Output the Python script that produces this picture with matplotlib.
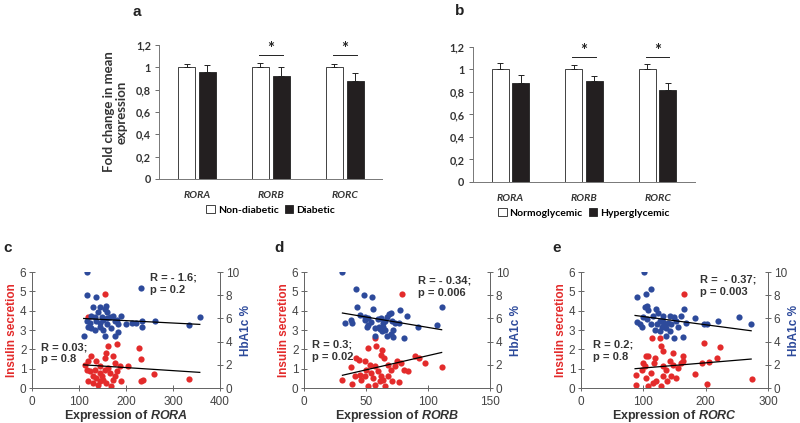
import matplotlib.pyplot as plt
from matplotlib.patches import Patch

# ---- bar panels (a, b) ----
genes = ["RORA", "RORB", "RORC"]

a_ctrl = [1.0, 1.0, 1.0]
a_ctrl_err = [0.03, 0.04, 0.03]
a_case = [0.96, 0.92, 0.88]
a_case_err = [0.06, 0.08, 0.07]

b_ctrl = [1.0, 1.0, 1.0]
b_ctrl_err = [0.06, 0.04, 0.05]
b_case = [0.88, 0.90, 0.82]
b_case_err = [0.07, 0.04, 0.06]

a_sig = [False, True, True]
b_sig = [False, True, True]
sig_level = 1.11

bar_ticks = [0, 0.2, 0.4, 0.6, 0.8, 1.0, 1.2]
bar_ticklabels = ["0", "0,2", "0,4", "0,6", "0,8", "1", "1,2"]

# ---- scatter panels (c, d, e) ----
# x = gene expression, ins = insulin secretion (left axis), hba = HbA1c % (right axis)
c_ins_x = [156, 119, 181, 161, 227, 232, 260, 335, 236, 232, 112, 119, 126, 137, 155, 158, 173, 176,
           144, 134, 123, 144, 155, 165, 176, 187, 205, 119, 130, 141, 151, 158, 169, 173, 190, 137,
           148, 162, 130, 116, 180, 144]
c_ins_y = [4.88, 3.7, 2.3, 2.15, 2.08, 1.5, 0.72, 0.47, 0.43, 0.35, 1.2, 1.38, 1.64, 1.38, 1.55, 1.8,
           1.64, 1.3, 1.15, 0.95, 0.86, 0.78, 0.95, 0.78, 0.6, 1.12, 1.12, 0.34, 0.26, 0.17, 0.43, 0.26,
           0.09, 0.43, 0.34, 0.52, 0.6, 1.03, 0.6, 0.95, 0.86, 0.34]
c_hba_x = [118, 118, 136, 232, 130, 144, 155, 157, 141, 160, 126, 165, 173, 190, 123, 137, 151, 144,
           159, 180, 183, 201, 212, 222, 235, 235, 262, 335, 357, 110, 156, 176, 183, 134, 151, 119,
           169, 116, 134, 148, 159, 176, 144, 126]
c_hba_y = [10.0, 8.0, 7.85, 8.6, 7.0, 7.0, 6.8, 7.1, 6.6, 6.6, 6.2, 6.1, 6.2, 6.2, 5.6, 5.75, 5.9, 5.3,
           5.5, 5.9, 5.55, 5.5, 5.6, 5.6, 5.75, 5.3, 5.8, 5.45, 6.1, 4.5, 4.5, 4.5, 4.8, 5.0, 5.0, 5.3,
           5.2, 5.75, 6.1, 6.1, 6.0, 5.8, 5.65, 5.2]
c_fit_x = [110, 357]
c_ins_fit = [1.2, 0.81]
c_hba_fit = [6.0, 5.49]

d_ins_x = [79, 57, 52, 58.4, 62.5, 62, 64.6, 42, 44, 38, 31, 39, 45.5, 49, 50.4, 57, 54, 60, 62, 61,
           57.6, 64, 68, 70, 70.6, 76.5, 73, 78.6, 81, 84, 89.4, 92.6, 97.5, 111, 68, 75, 49, 52, 56,
           46, 41, 53, 65]
d_ins_y = [4.88, 2.6, 2.07, 2.15, 1.98, 1.72, 1.55, 1.55, 1.47, 1.07, 0.4, 0.2, 0.65, 0.6, 0.95, 1.12,
           0.78, 0.86, 0.6, 0.34, 0.17, 0.43, 0.6, 0.95, 0.34, 0.29, 1.12, 1.3, 0.95, 0.86, 1.64, 1.55,
           1.3, 1.08, 1.2, 1.38, 1.38, 0.08, 0.52, 0.43, 0.6, 1.2, 0.08]
d_hba_x = [31, 42, 48.5, 55, 42.5, 56, 33, 38, 39, 45, 49, 52, 57, 62, 67, 68.7, 70, 64, 61, 57, 70,
           71.5, 67, 77, 77.5, 82.7, 81, 92, 107, 111, 73, 60, 54, 49, 64, 65.7, 60.3, 50.5, 72, 63, 52,
           65, 70.6]
d_hba_y = [10.0, 8.56, 8.0, 7.85, 7.0, 6.8, 5.6, 5.9, 5.6, 6.3, 6.1, 5.4, 5.2, 6.0, 6.1, 6.4, 6.5, 5.6,
           5.1, 4.5, 4.7, 4.4, 4.5, 5.6, 6.75, 6.2, 4.3, 5.3, 5.4, 7.0, 5.6, 5.95, 5.7, 5.9, 5.3, 5.0,
           5.3, 5.3, 5.0, 4.9, 6.0, 5.8, 5.8]
d_fit_x = [31, 111]
d_ins_fit = [0.66, 1.84]
d_hba_fit = [6.47, 5.03]

e_ins_x = [165, 114.5, 127, 128, 197, 223, 219, 104, 132, 148, 164, 164, 194, 205, 183, 203, 275, 88,
           89, 97.5, 103, 105, 113, 117, 121, 128, 131, 137, 138, 145, 153, 148, 156, 161, 108, 119,
           100, 116, 132, 143, 108]
e_ins_y = [4.88, 2.6, 2.6, 2.19, 2.33, 2.1, 1.55, 1.64, 1.9, 1.8, 1.67, 1.38, 1.3, 1.33, 0.72, 0.2,
           0.47, 0.65, 0.17, 0.95, 1.12, 0.52, 0.78, 1.3, 0.34, 0.12, 0.6, 0.95, 0.34, 0.6, 0.52, 1.2,
           1.03, 1.3, 1.64, 1.55, 1.3, 0.26, 1.12, 1.38, 0.08]
e_hba_x = [102, 90.6, 105, 112, 103, 106, 108, 121, 166, 89.5, 94.8, 97.5, 100, 105.5, 116, 124, 132,
           143, 150, 161, 121.5, 129.5, 137, 119, 127, 137, 149, 164, 143, 156, 169, 183, 197, 203, 220,
           254, 273, 132, 140, 153, 113, 127, 145, 135]
e_hba_y = [10.0, 7.85, 8.1, 8.56, 7.0, 7.1, 6.75, 6.8, 6.8, 5.7, 5.5, 5.3, 6.1, 5.95, 6.2, 6.5, 6.2,
           6.2, 6.1, 6.2, 5.55, 5.3, 5.2, 5.0, 4.9, 4.5, 4.3, 4.4, 4.9, 5.3, 5.6, 6.0, 5.55, 5.55, 5.8,
           6.1, 5.5, 5.7, 5.6, 5.75, 5.5, 5.75, 5.5, 5.5]
e_fit_x = [87, 273]
e_ins_fit = [1.0, 1.5]
e_hba_fit = [6.26, 4.94]

red = "#e32b2b"
blue = "#2d4a9b"
txt = "#333333"

bar_font = "Lato"
sc_font = "Liberation Sans"

plt.rcParams["mathtext.fontset"] = "custom"
plt.rcParams["mathtext.bfit"] = "Liberation Sans:bold:italic"

fig = plt.figure(figsize=(8, 4.23), dpi=100)


def bar_panel(rect, ctrl, ctrl_err, case, case_err, sig, labels, letter, letter_pos, ylabel=True):
    ax = fig.add_axes(rect)
    pos = range(len(genes))
    off = 0.14
    w = 0.23
    xc = [p - off for p in pos]
    xd = [p + off for p in pos]
    ax.bar(xc, ctrl, width=w, color="white", edgecolor="#222222", lw=0.6, zorder=2)
    ax.bar(xd, case, width=w, color="#231f20", edgecolor="#222222", lw=0.6, zorder=2)
    ax.errorbar(xc, ctrl, yerr=[[0] * 3, ctrl_err], fmt="none", ecolor="#222222", elinewidth=0.7,
                capsize=2.5, capthick=0.7, zorder=3)
    ax.errorbar(xd, case, yerr=[[0] * 3, case_err], fmt="none", ecolor="#222222", elinewidth=0.7,
                capsize=2.5, capthick=0.7, zorder=3)
    for p, s in zip(pos, sig):
        if s:
            ax.plot([p - 0.16, p + 0.16], [sig_level, sig_level], color="#222222", lw=0.7)
            ax.text(p, sig_level - 0.015, "*", ha="center", va="bottom", fontsize=12,
                    fontweight="bold", family=bar_font, color="#222222")
    ax.set_xlim(-0.51, 2.51)
    ax.set_ylim(0, 1.2)
    ax.set_yticks(bar_ticks)
    ax.set_yticklabels(bar_ticklabels, family=bar_font, fontweight="bold", fontsize=7.8, color=txt)
    ax.set_xticks(list(pos))
    ax.set_xticklabels(genes, family=bar_font, fontweight="bold", style="italic", fontsize=7.5,
                       color=txt)
    ax.tick_params(axis="x", length=0, pad=9)
    ax.tick_params(axis="y", length=3, width=0.6, colors="#555555", labelcolor=txt, pad=3)
    for sp in ["top", "right"]:
        ax.spines[sp].set_visible(False)
    ax.spines["left"].set_color("#777777")
    ax.spines["bottom"].set_color("#777777")
    ax.spines["left"].set_linewidth(0.7)
    ax.spines["bottom"].set_linewidth(0.7)
    if ylabel:
        ax.set_ylabel("Fold change in mean\nexpression", family=bar_font, fontweight="bold",
                      fontsize=9.5, color=txt, linespacing=1.0, labelpad=6)
    handles = [Patch(facecolor="white", edgecolor="#222222", lw=0.6),
               Patch(facecolor="#231f20", edgecolor="#222222", lw=0.6)]
    ax.legend(handles, labels, loc="upper center", bbox_to_anchor=(0.5, -0.155), ncol=2,
              frameon=False, handlelength=0.8, handleheight=0.8, handletextpad=0.3,
              columnspacing=0.6, borderpad=0,
              prop={"family": bar_font, "weight": "bold", "size": 7.5})
    fig.text(letter_pos[0], letter_pos[1], letter, family=sc_font, fontweight="bold", fontsize=11,
             color="#222222", ha="center", va="center")
    return ax


bar_panel([0.199, 0.577, 0.279, 0.317], a_ctrl, a_ctrl_err, a_case, a_case_err, a_sig,
          ["Non-diabetic", "Diabetic"], "a", (137 / 800, 1 - 12 / 423))
bar_panel([0.591, 0.570, 0.278, 0.319], b_ctrl, b_ctrl_err, b_case, b_case_err, b_sig,
          ["Normoglycemic", "Hyperglycemic"], "b", (460 / 800, 1 - 11 / 423), ylabel=False)


def scatter_panel(rect, ix, iy, hx, hy, fx, ifit, hfit, xmax, xticks, gene, letter, letter_x,
                  ins_txt, ins_pos, hba_txt, hba_pos):
    ax = fig.add_axes(rect)
    ax2 = ax.twinx()
    ax.scatter(ix, iy, s=20, color=red, lw=0, zorder=2)
    ax.plot(fx, ifit, color="black", lw=0.9, zorder=3)
    ax2.scatter(hx, hy, s=20, color=blue, lw=0, zorder=2)
    ax2.plot(fx, hfit, color="black", lw=0.9, zorder=3)
    ax.set_xlim(0, xmax)
    ax.set_ylim(0, 6)
    ax2.set_ylim(0, 10)
    ax.set_xticks(xticks)
    ax.set_yticks(range(0, 7))
    ax2.set_yticks(range(0, 11, 2))
    for a in (ax, ax2):
        a.spines["top"].set_visible(False)
        for sp in a.spines.values():
            sp.set_color("#666666")
            sp.set_linewidth(0.7)
        a.tick_params(labelsize=8.5, labelcolor="#444444", colors="#666666", width=0.7, length=4,
                      direction="inout", pad=2)
        for lab in a.get_xticklabels() + a.get_yticklabels():
            lab.set_family(sc_font)
    ax.tick_params(axis="x", pad=4)
    ax.set_ylabel("Insulin secretion", color=red, fontweight="bold", fontsize=8.5, family=sc_font,
                  labelpad=1)
    ax2.set_ylabel("HbA1c %", color=blue, fontweight="bold", fontsize=8.5, family=sc_font,
                   labelpad=1)
    ax.set_xlabel("Expression of $\\mathbfit{" + gene + "}$", fontweight="bold", fontsize=9,
                  family=sc_font, color=txt, labelpad=0)
    ax.text(ins_pos[0], ins_pos[1], ins_txt, fontsize=8, fontweight="bold", family=sc_font,
            color=txt, va="center", linespacing=1.3, zorder=5)
    ax.text(hba_pos[0], hba_pos[1], hba_txt, fontsize=8, fontweight="bold", family=sc_font,
            color=txt, va="center", linespacing=1.3, zorder=5)
    ax2.set_zorder(ax.get_zorder() + 1)
    fig.text(letter_x / 800, 1 - 248 / 423, letter, family=sc_font, fontweight="bold", fontsize=11,
             color="#222222", ha="center", va="center")


scatter_panel([0.040, 0.0827, 0.235, 0.274], c_ins_x, c_ins_y, c_hba_x, c_hba_y, c_fit_x,
              c_ins_fit, c_hba_fit, 400, [0, 100, 200, 300, 400], "RORA", "c", 8,
              "R = 0.03;\np = 0.8", (19, 1.8), "R = - 1.6;\np = 0.2", (251, 5.4))
scatter_panel([0.380, 0.0827, 0.2325, 0.274], d_ins_x, d_ins_y, d_hba_x, d_hba_y, d_fit_x,
              d_ins_fit, d_hba_fit, 150, [0, 50, 100, 150], "RORB", "d", 279,
              "R = 0.3;\np = 0.02", (6.5, 1.95), "R = - 0.34;\np = 0.006", (92, 5.25))
scatter_panel([0.726, 0.0827, 0.234, 0.274], e_ins_x, e_ins_y, e_hba_x, e_hba_y, e_fit_x,
              e_ins_fit, e_hba_fit, 300, [0, 100, 200, 300], "RORC", "e", 557,
              "R = 0.2;\np = 0.8", (19, 1.95), "R =  - 0.37;\np = 0.003", (191, 5.3))

fig.savefig("out.png", dpi=100, facecolor="white")
